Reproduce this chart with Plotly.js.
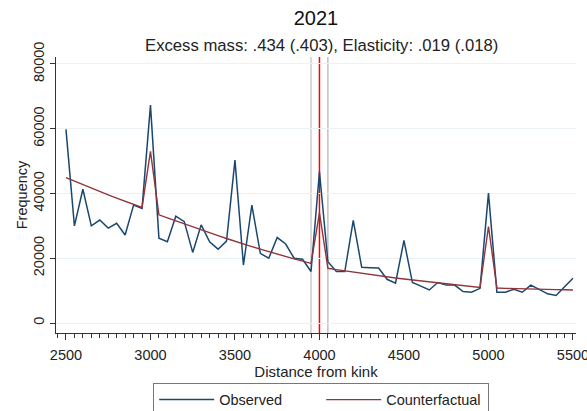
<!DOCTYPE html>
<html>
<head>
<meta charset="utf-8">
<script src="https://cdn.plot.ly/plotly-3.0.1.min.js"></script>
<style>html,body{margin:0;padding:0;background:#fff;}#chart{width:587px;height:411px;}</style>
</head>
<body>
<div id="chart"></div>
<script>
// Distance from kink (bins of 50)
const distance = [2500,2550,2600,2650,2700,2750,2800,2850,2900,2950,
  3000,3050,3100,3150,3200,3250,3300,3350,3400,3450,
  3500,3550,3600,3650,3700,3750,3800,3850,3900,3950,
  4000,4050,4100,4150,4200,4250,4300,4350,4400,4450,
  4500,4550,4600,4650,4700,4750,4800,4850,4900,4950,
  5000,5050,5100,5150,5200,5250,5300,5350,5400,5450,5500];

const observed = [59800,30000,41300,30000,31800,29300,30800,27200,36400,35400,
  67300,26200,25100,33000,31300,21800,30300,25100,22800,25300,
  50300,17900,36400,21500,20000,26400,24400,20000,19700,15900,
  46700,18900,15900,15900,31700,17200,17100,17000,13500,12300,
  25500,12500,11400,10200,12500,11700,11700,9700,9500,10700,
  40100,9500,9500,10400,9500,11700,10400,9000,8500,11200,13800];

const counterfactual = [44900,43800,42700,41700,40600,39600,38600,37600,36600,35700,
  53000,33400,32450,31500,30600,29700,28800,27900,27000,26100,
  25200,24400,23600,22800,22000,21300,20500,19800,19100,18400,
  34000,16900,16500,16100,15700,15300,14900,14600,14200,13900,
  13600,13300,13000,12700,12400,12100,11800,11500,11300,11000,
  29800,10800,10700,10600,10500,10450,10400,10350,10300,10250,10200];

const xTicks = [2500,3000,3500,4000,4500,5000,5500];
const yTicks = [0,20000,40000,60000,80000];
const kinkLow = 3950, kinkPoint = 4000, kinkHigh = 4050;

const titleText = "2021";
const subtitleText = "Excess mass: .434 (.403), Elasticity: .019 (.018)";

const font = "Liberation Sans, Arial, sans-serif";

const traces = [
  {x: distance, y: observed, type: 'scatter', mode: 'lines', name: 'Observed',
   line: {color: '#1a476f', width: 1.5}},
  {x: distance, y: counterfactual, type: 'scatter', mode: 'lines', name: 'Counterfactual',
   line: {color: '#90353b', width: 1.4}}
];

const layout = {
  width: 587, height: 411,
  paper_bgcolor: '#ffffff', plot_bgcolor: '#ffffff',
  margin: {l: 56, r: 11, t: 57, b: 78, autoexpand: false},
  font: {family: font, size: 14.5, color: '#222'},
  title: {
    text: titleText, font: {size: 20, color: '#111', family: font},
    x: 0.5, xref: 'paper', xanchor: 'center',
    y: 0.956, yref: 'container', yanchor: 'middle'
  },
  annotations: [
    {text: subtitleText, xref: 'paper', yref: 'paper', x: 0.51, y: 1.043,
     xanchor: 'center', yanchor: 'middle', showarrow: false,
     font: {size: 16.7, color: '#222', family: font}}
  ],
  xaxis: {
    range: [2441, 5518], automargin: false,
    tickvals: xTicks, ticktext: xTicks.map(String), tickangle: 0,
    ticklabeloverflow: 'allow',
    ticks: 'outside', ticklen: 6, tickwidth: 1, tickcolor: '#333',
    showline: true, linecolor: '#333', linewidth: 1,
    showgrid: false, zeroline: false,
    minor: {dtick: 50, tick0: 2500, ticks: 'outside', ticklen: 4, tickcolor: '#333', showgrid: false},
    tickfont: {size: 14.5, color: '#222'},
    title: {text: 'Distance from kink', font: {size: 15, color: '#222'}, standoff: 2},
    ticklabelstandoff: 3
  },
  yaxis: {
    range: [-3090, 82160], automargin: false,
    tickvals: yTicks, ticktext: yTicks.map(String),
    tickangle: -90,
    ticks: 'outside', ticklen: 5, tickwidth: 1, tickcolor: '#333',
    showline: true, linecolor: '#333', linewidth: 1,
    showgrid: true, gridcolor: '#eaf2f3', gridwidth: 1, zeroline: false,
    tickfont: {size: 14.5, color: '#222'},
    title: {text: 'Frequency', font: {size: 14.5, color: '#222'}, standoff: 0}
  },
  shapes: [
    {type: 'line', xref: 'x', yref: 'paper', x0: kinkLow, x1: kinkLow, y0: 0, y1: 1,
     line: {color: '#d9d9d9', width: 2}, layer: 'below'},
    {type: 'line', xref: 'x', yref: 'paper', x0: kinkHigh, x1: kinkHigh, y0: 0, y1: 1,
     line: {color: '#a0a0a0', width: 1}, layer: 'below'},
    {type: 'line', xref: 'x', yref: 'paper', x0: kinkPoint, x1: kinkPoint, y0: 0, y1: 1,
     line: {color: '#ff0000', width: 1.5}, layer: 'below'}
  ],
  showlegend: true,
  legend: {
    orientation: 'h', x: 0.51, xanchor: 'center',
    y: -0.18, yanchor: 'top',
    bordercolor: '#777', borderwidth: 1, bgcolor: '#fff',
    font: {size: 14.5, color: '#222'},
    itemwidth: 55, entrywidth: 97, entrywidthmode: 'pixels', traceorder: 'normal'
  }
};

Plotly.newPlot('chart', traces, layout, {displayModeBar: false, staticPlot: true});
</script>
</body>
</html>
